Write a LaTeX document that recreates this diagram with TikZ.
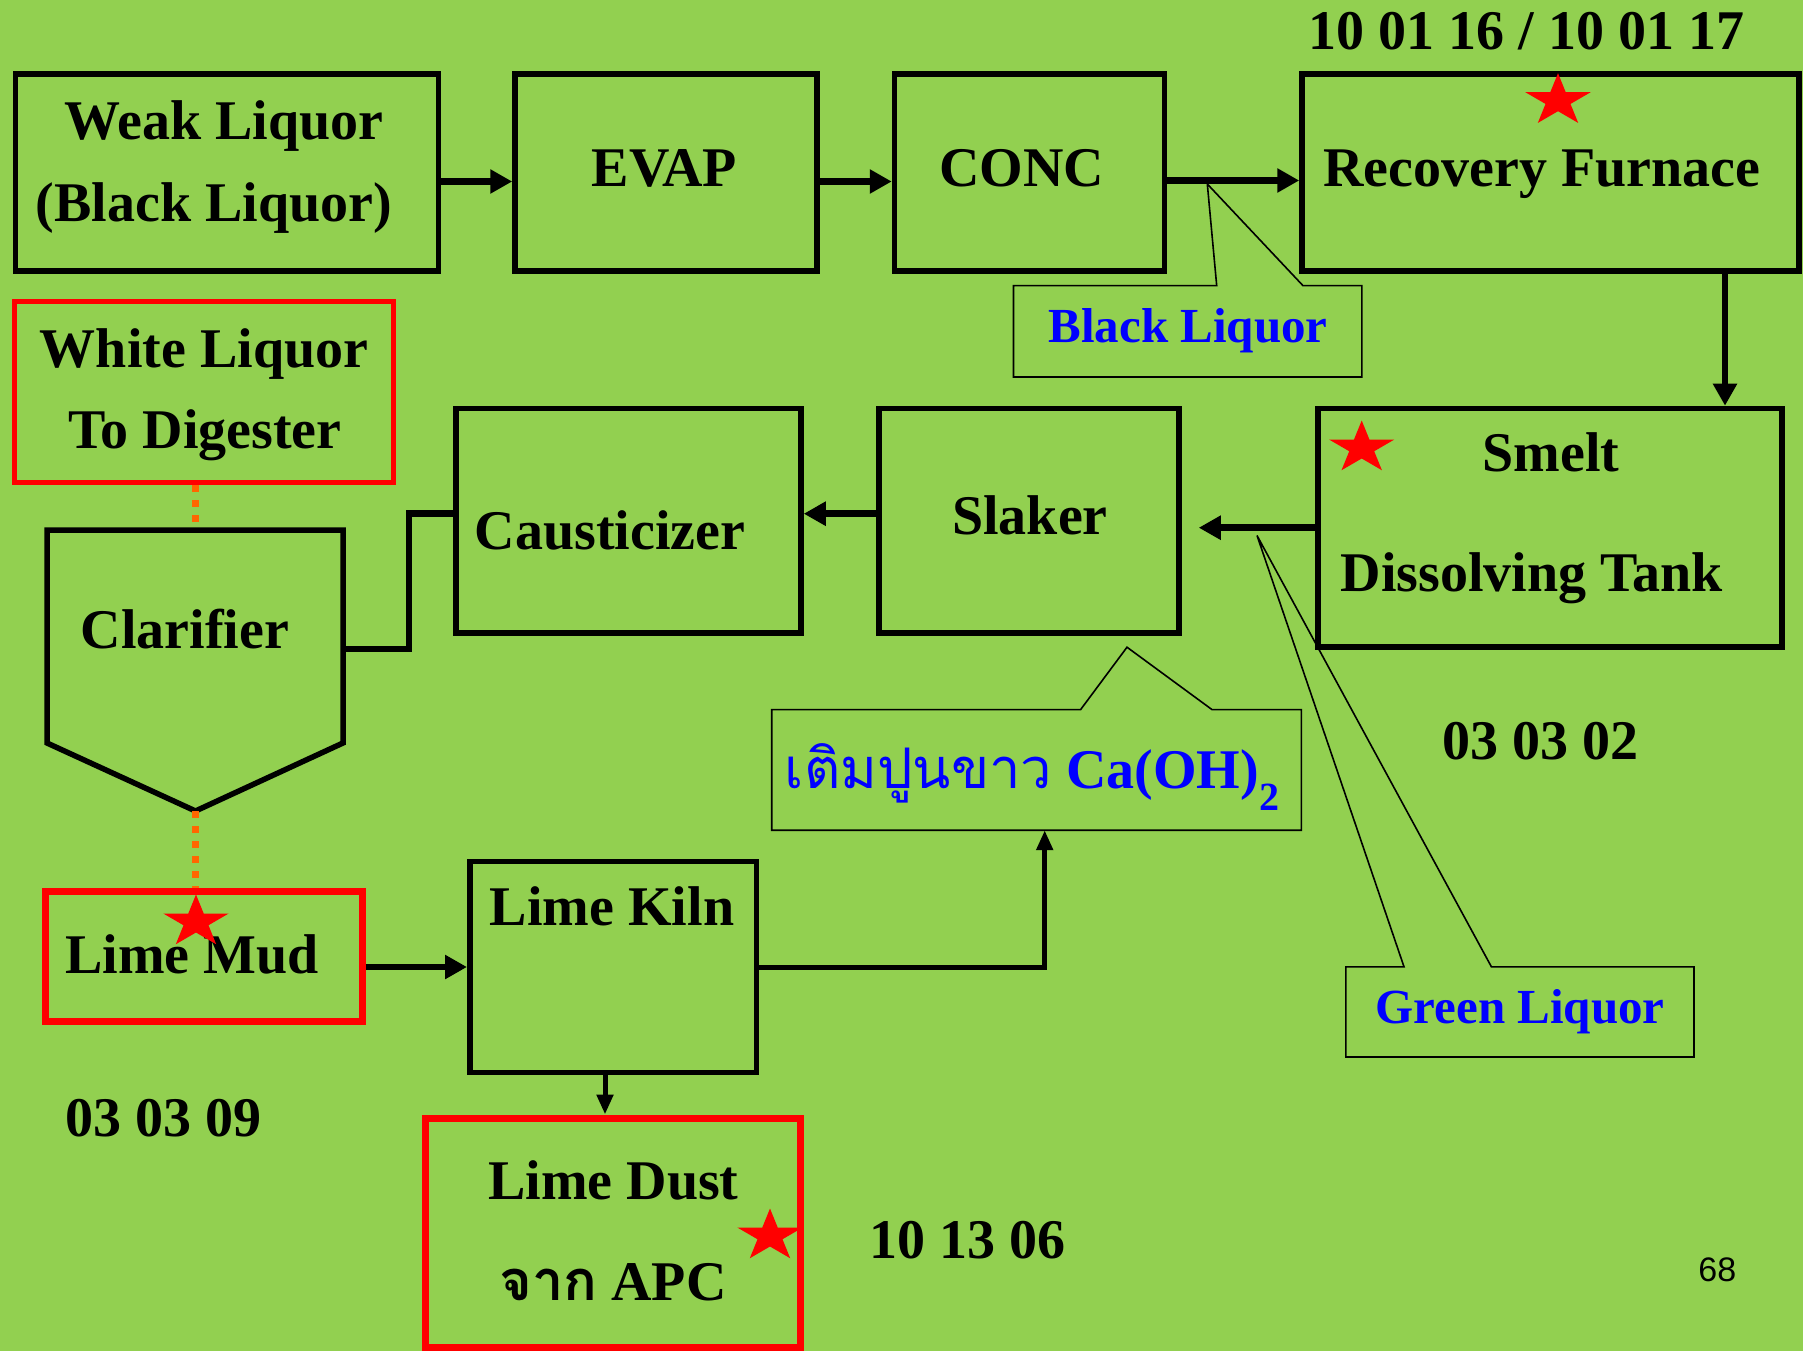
\documentclass[tikz,border=0pt]{standalone}
\usepackage{fontspec}
\setmainfont{Liberation Serif}
\newfontfamily\thaifont[Script=Thai]{Loma}
\newfontfamily\pagefont{Liberation Sans}
\usetikzlibrary{arrows.meta, shapes.geometric}
\definecolor{SlideGreen}{HTML}{92D050}
\definecolor{MudOrange}{HTML}{FF6600}

\begin{document}
\begin{tikzpicture}[
    x=1bp, y=-1bp,
    box/.style={
        rectangle,
        draw=black,
        line width=5.5bp,
        inner sep=0pt
    },
    redbox/.style={
        box,
        draw=red,
        line width=7bp
    },
    lbl/.style={
        font=\fontsize{56bp}{60bp}\selectfont\bfseries,
        anchor=base,
        inner sep=0pt
    },
    note/.style={
        lbl,
        font=\fontsize{49bp}{54bp}\selectfont\bfseries,
        text=blue
    },
    flow/.style={
        line width=6.5bp,
        -{Triangle[length=22bp,width=23bp]}
    },
    thinflow/.style={
        line width=5bp,
        -{Triangle[length=20bp,width=16bp]}
    },
    pipe/.style={line width=6.5bp},
    callout/.style={draw=black, line width=1.6bp},
    mudline/.style={
        draw=MudOrange,
        line width=7bp,
        dash pattern=on 7bp off 8bp
    },
    redstar/.style={
        star,
        star points=5,
        star point ratio=2.618,
        fill=red,
        inner sep=0pt,
        minimum size=55bp,
        xscale=1.25
    }
]

% Background
\fill[SlideGreen] (0,0) rectangle (1803,1351);
\useasboundingbox (0,0) rectangle (1803,1351);

% Top row
\node[box, minimum width=423bp, minimum height=197bp] (weak) at (227,172.5) {};
\node[box, minimum width=302bp, minimum height=197bp] (evap) at (666,172.5) {};
\node[box, minimum width=270bp, minimum height=197bp] (conc) at (1029.5,172.5) {};
\node[box, minimum width=497bp, minimum height=197bp] (rf) at (1550.5,172.5) {};

\node[lbl] (weakA) at (224,140) {Weak Liquor};
\node[lbl] (weakB) at (214,221.7) {(Black Liquor)};
\node[lbl] (evapT) at (664.5,186.7) {EVAP};
\node[lbl] (concT) at (1021.5,186.7) {CONC};
\node[lbl] (rfT) at (1541.6,186.7) {Recovery Furnace};

% Middle row
\node[redbox, line width=5.5bp, minimum width=378.5bp, minimum height=181bp] (white) at (204,392) {};
\node[box, minimum width=345bp, minimum height=224.5bp] (caust) at (628.5,520.7) {};
\node[box, minimum width=300bp, minimum height=224.5bp] (slaker) at (1029,520.7) {};
\node[box, minimum width=464bp, minimum height=238.5bp] (smelt) at (1550,527.7) {};

\node[lbl] (whiteA) at (204,367) {White Liquor};
\node[lbl] (whiteB) at (205,448) {To Digester};
\node[lbl] (caustT) at (610,549) {Causticizer};
\node[lbl] (slakerT) at (1030,534.7) {Slaker};
\node[lbl] (smeltA) at (1551,471.7) {Smelt};
\node[lbl] (smeltB) at (1531.8,591) {Dissolving Tank};

% Clarifier
\coordinate (clarNW) at (47,530);
\coordinate (clarNE) at (343,530);
\coordinate (clarSE) at (343,743);
\coordinate (clarTip) at (195.5,811);
\coordinate (clarSW) at (47,743);
\coordinate (clarTop) at (195.5,527.25);
\coordinate (clarOut) at (345.75,649);
\draw[line width=5.5bp] (clarNW) -- (clarNE) -- (clarSE) -- (clarTip) -- (clarSW) -- cycle;
\node[lbl] (clarT) at (184.8,648) {Clarifier};

% Bottom row
\node[redbox, minimum width=316.5bp, minimum height=130bp] (mud) at (204,956) {};
\node[box, minimum width=286.5bp, minimum height=211bp] (kiln) at (613,967) {};
\node[redbox, minimum width=375.5bp, minimum height=229bp] (dust) at (613,1232.5) {};

\node[lbl] (mudT) at (192,973) {Lime Mud};
\node[lbl] (kilnT) at (612,925.7) {Lime Kiln};
\node[lbl] (dustA) at (613.4,1199) {Lime Dust};
\node[lbl] (dustB) at (613,1300) {{\thaifont จาก} APC};

% Waste codes
\node[lbl] (codeRF) at (1526.3,49.3) {10 01 16 / 10 01 17};
\node[lbl] (codeSmelt) at (1540,759.4) {03 03 02};
\node[lbl] (codeMud) at (163.8,1136.7) {03 03 09};
\node[lbl] (codeDust) at (967,1258) {10 13 06};
\node[anchor=base, inner sep=0pt, font=\pagefont\fontsize{34bp}{40bp}\selectfont] (page) at (1717.3,1281.7) {68};

% Main flow
\draw[flow] ([yshift=-9bp]weak.east) -- ([yshift=-9bp]evap.west);
\draw[flow] ([yshift=-9bp]evap.east) -- ([yshift=-9bp]conc.west);
\draw[flow] ([yshift=-8bp]conc.east) -- ([yshift=-8bp]rf.west);
\coordinate (rfDrop) at ([xshift=174.5bp]rf.south);
\draw[flow] (rfDrop) -- (rfDrop |- smelt.north);
\coordinate (slakerIn) at ([xshift=17bp]slaker.east);
\draw[flow] (smelt.west) -- (slakerIn |- smelt.west);
\draw[flow] ([yshift=7bp]slaker.west) -- ([yshift=7bp]caust.east);
\draw[pipe] (clarOut) -- ++(63,0) |- ([yshift=7bp]caust.west);
\draw[flow] (kiln.west -| mud.east) -- (kiln.west);
\coordinate (caoIn) at (1044.7,830.2);
\draw[thinflow] (kiln.east) -| (caoIn);
\coordinate (kilnOut) at ([xshift=-8bp]kiln.south);
\draw[thinflow] (kilnOut) -- (kilnOut |- dust.north);

% Mud lines
\draw[mudline] (white.south -| clarTop) -- (clarTop);
\draw[mudline] (clarTip) -- (clarTip |- mud.north);

% Callouts
\coordinate (blackTip) at (1207.3,184);
\draw[callout] (1216.7,285.7) -- (blackTip) -- (1303,285.7) -- (1361.9,285.7) -- (1361.9,377)
    -- (1013.5,377) -- (1013.5,285.7) -- cycle;
\node[note] (blackLiq) at (1188,343) {Black Liquor};

\coordinate (caoTip) at (1127,647.2);
\draw[callout] (1080.6,709.6) -- (caoTip) -- (1212,709.6) -- (1301.4,709.6) -- (1301.4,830.2)
    -- (771.7,830.2) -- (771.7,709.6) -- cycle;
\node[note, font=\fontsize{56bp}{60bp}\selectfont\bfseries] (caoT) at (1032,788)
    {{\thaifont\mdseries เติมปูนขาว} Ca(OH)\raisebox{-22bp}{\fontsize{40bp}{40bp}\selectfont 2}};

\coordinate (greenTip) at (1257,535.5);
\draw[callout] (1404,966.8) -- (greenTip) -- (1491.4,966.8) -- (1694,966.8) -- (1694,1057)
    -- (1345.8,1057) -- (1345.8,966.8) -- cycle;
\node[note] (greenLiq) at (1520,1023.4) {Green Liquor};

% Stars
\node[redstar] (rfStar) at (1558,100.7) {};
\node[redstar] (smeltStar) at (1361.7,448) {};
\node[redstar] (mudStar) at (196,922) {};
\node[redstar] (dustStar) at (770,1236) {};

\end{tikzpicture}
\end{document}
